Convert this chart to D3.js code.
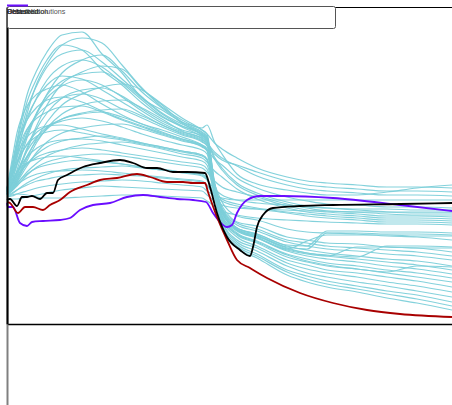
<!DOCTYPE html>
<html>
<head>
<meta charset="utf-8">
<script src="https://cdn.jsdelivr.net/npm/d3@7"></script>
<style>
  html, body { margin: 0; padding: 0; background: #fff; }
  svg { display: block; }
</style>
</head>
<body>
<svg id="chart" width="452" height="405"></svg>
<script>
// Time axis shared by every ensemble member
const solutionTimes = [0, 1, 2, 4, 6, 8, 11, 15, 19, 23, 27, 31, 35, 39, 40, 41.5, 43, 46, 50, 56, 60, 64, 70, 76, 82, 89];

// Ensemble of model solutions
const solutions = [
  [13.4, 15.9, 18.4, 22.9, 25.4, 27.2, 28.9, 29.2, 27.0, 25.1, 22.6, 21.4, 20.2, 19.4, 19.0, 14.1, 10.8, 9.3, 8.6, 7.3, 6.8, 6.5, 6.2, 5.8, 5.5, 5.0],
  [13.2, 14.6, 16.8, 21.0, 24.1, 26.0, 27.9, 28.6, 28.1, 25.9, 23.6, 21.7, 20.4, 19.6, 19.9, 18.2, 17.0, 15.0, 14.0, 13.4, 13.1, 12.9, 12.9, 13.2, 13.6, 13.9],
  [13.5, 15.6, 18.1, 22.2, 24.6, 26.4, 27.9, 27.4, 25.4, 23.9, 22.1, 20.7, 19.8, 19.0, 18.6, 14.2, 11.1, 9.5, 8.8, 7.7, 7.5, 9.1, 9.1, 9.0, 9.0, 8.9],
  [13.0, 14.0, 15.4, 18.6, 21.1, 23.0, 25.1, 26.4, 26.9, 25.3, 23.2, 21.6, 20.1, 18.9, 18.5, 13.6, 10.3, 8.4, 7.6, 6.1, 5.5, 5.1, 4.7, 4.2, 3.8, 3.2],
  [13.3, 15.1, 17.3, 20.4, 22.7, 24.4, 25.8, 26.4, 25.7, 24.1, 22.4, 20.8, 19.7, 18.7, 18.3, 16.7, 15.6, 14.1, 13.1, 12.2, 11.8, 11.6, 11.4, 11.2, 11.1, 11.1],
  [13.1, 13.8, 15.0, 17.6, 19.9, 21.9, 24.0, 25.2, 25.8, 25.5, 23.5, 21.9, 20.2, 19.2, 18.8, 13.9, 10.6, 9.0, 8.2, 6.9, 6.3, 5.9, 5.5, 5.2, 5.8, 5.7],
  [13.4, 15.7, 17.9, 20.7, 22.6, 23.9, 24.8, 24.5, 23.4, 22.2, 21.0, 19.9, 19.1, 18.4, 18.0, 13.7, 10.7, 8.9, 8.1, 6.7, 6.2, 5.8, 5.5, 5.1, 4.7, 4.2],
  [13.0, 14.3, 16.1, 19.1, 21.1, 22.6, 23.8, 24.4, 23.9, 22.7, 21.3, 20.1, 19.2, 18.6, 18.2, 16.5, 15.4, 13.9, 12.9, 12.0, 11.6, 11.3, 11.2, 11.0, 10.9, 10.9],
  [13.6, 16.4, 19.1, 21.8, 23.0, 23.5, 23.9, 23.2, 22.0, 20.9, 20.0, 19.4, 18.7, 17.9, 17.5, 13.8, 11.2, 9.4, 8.6, 7.4, 7.0, 6.8, 7.7, 7.7, 7.6, 7.6],
  [12.9, 13.6, 14.8, 17.4, 19.6, 21.1, 22.6, 23.4, 23.6, 22.8, 21.5, 20.3, 19.4, 18.8, 18.4, 13.3, 9.9, 8.0, 7.0, 5.4, 4.8, 4.3, 3.8, 3.3, 2.9, 2.2],
  [13.2, 14.9, 16.6, 19.4, 20.9, 21.8, 22.6, 23.0, 22.5, 21.5, 20.6, 19.7, 18.9, 18.2, 17.8, 14.1, 11.6, 10.1, 9.5, 8.4, 8.1, 7.8, 7.6, 7.4, 7.2, 6.8],
  [13.0, 13.5, 14.3, 16.3, 18.2, 19.6, 21.0, 21.9, 22.3, 22.4, 21.6, 20.5, 19.3, 18.5, 18.1, 17.2, 16.6, 15.8, 14.8, 13.9, 13.5, 13.3, 13.1, 12.9, 12.9, 12.8],
  [13.3, 15.4, 17.2, 19.5, 20.6, 21.2, 21.7, 21.8, 21.2, 20.4, 19.7, 19.0, 18.4, 17.7, 17.3, 13.8, 11.4, 9.6, 9.0, 7.9, 7.8, 9.3, 9.3, 9.2, 9.2, 9.1],
  [13.1, 14.0, 15.2, 17.3, 18.7, 19.7, 20.5, 21.0, 21.2, 20.7, 20.0, 19.2, 18.5, 17.9, 17.5, 12.9, 9.7, 7.8, 6.8, 5.2, 4.5, 4.0, 3.5, 3.0, 2.5, 1.8],
  [13.4, 14.8, 16.0, 18.0, 19.2, 19.8, 20.3, 20.6, 20.3, 19.7, 19.0, 18.4, 17.9, 17.4, 17.0, 13.4, 10.9, 9.1, 8.3, 7.0, 6.5, 6.1, 5.8, 5.4, 5.1, 4.6],
  [12.9, 13.5, 14.2, 15.8, 17.2, 18.2, 19.1, 19.6, 19.9, 20.0, 19.5, 18.9, 18.3, 17.8, 17.4, 16.5, 15.9, 14.6, 13.6, 12.7, 12.3, 12.0, 11.9, 11.7, 11.7, 11.6],
  [13.5, 15.0, 16.3, 17.9, 18.8, 19.2, 19.4, 19.1, 18.7, 18.4, 18.0, 17.6, 17.2, 16.8, 16.4, 14.0, 12.2, 10.8, 10.4, 9.5, 9.2, 9.1, 9.0, 8.8, 8.7, 8.4],
  [13.0, 13.7, 14.5, 16.0, 17.0, 17.7, 18.3, 18.6, 18.8, 18.5, 18.1, 17.7, 17.3, 16.9, 16.5, 12.8, 10.2, 8.2, 7.3, 5.8, 5.1, 4.7, 4.2, 3.8, 3.3, 2.7],
  [13.1, 13.4, 14.0, 15.2, 16.1, 16.8, 17.4, 17.9, 18.1, 18.2, 17.9, 17.5, 17.0, 16.6, 16.2, 15.3, 14.7, 13.5, 12.5, 11.6, 11.2, 11.0, 10.8, 10.6, 10.6, 10.5],
  [13.2, 14.0, 14.8, 16.0, 16.7, 17.1, 17.4, 17.6, 17.4, 17.1, 16.8, 16.5, 16.2, 15.9, 15.5, 13.3, 11.8, 10.2, 9.8, 8.7, 8.4, 8.1, 8.0, 7.7, 7.6, 7.2],
  [12.9, 13.3, 13.8, 14.9, 15.7, 16.2, 16.6, 16.9, 17.0, 16.8, 16.5, 16.2, 15.9, 15.6, 15.2, 14.3, 13.7, 13.2, 12.7, 11.8, 11.4, 11.2, 11.0, 10.8, 10.8, 10.7],
  [13.0, 13.5, 14.1, 15.0, 15.6, 15.9, 16.2, 16.4, 16.2, 16.0, 15.7, 15.5, 15.2, 15.0, 14.6, 12.8, 11.4, 9.6, 9.0, 7.8, 7.4, 7.1, 6.8, 6.5, 6.3, 5.8],
  [12.8, 13.0, 13.4, 14.1, 14.6, 15.0, 15.4, 15.6, 15.7, 15.8, 15.6, 15.4, 15.1, 14.8, 14.4, 13.5, 12.9, 12.4, 12.1, 11.9, 11.7, 11.6, 11.5, 11.5, 11.4, 11.4],
  [12.9, 13.1, 13.4, 13.9, 14.3, 14.5, 14.8, 14.9, 15.0, 14.9, 14.8, 14.6, 14.4, 14.2, 13.8, 12.9, 12.3, 11.8, 11.5, 11.1, 10.8, 10.6, 10.4, 10.2, 10.2, 10.1],
  [12.7, 12.8, 13.0, 13.3, 13.6, 13.8, 14.0, 14.2, 14.3, 14.4, 14.3, 14.1, 13.9, 13.7, 13.3, 12.9, 12.6, 12.4, 12.4, 12.4, 12.4, 12.4, 12.4, 12.4, 12.4, 12.4],
  [12.6, 12.5, 12.5, 12.7, 12.9, 13.1, 13.4, 13.6, 13.8, 13.7, 13.6, 13.5, 13.4, 13.3, 12.9, 12.3, 11.9, 11.6, 11.5, 11.4, 11.3, 11.3, 11.2, 11.2, 11.2, 11.2],
  [13.3, 15.2, 17.6, 21.5, 23.9, 25.7, 27.0, 27.4, 26.2, 24.5, 22.7, 21.1, 20.0, 19.1, 18.7, 13.2, 9.6, 7.6, 6.6, 4.9, 4.2, 3.7, 3.2, 2.6, 2.1, 1.4],
  [13.2, 14.3, 15.9, 18.9, 21.2, 22.9, 24.3, 25.0, 25.2, 24.2, 22.6, 21.0, 19.8, 18.9, 18.5, 13.7, 10.5, 8.7, 7.8, 6.4, 5.9, 5.4, 5.1, 4.7, 4.3, 3.7],
  [13.5, 15.8, 18.0, 20.4, 21.7, 22.4, 22.7, 22.2, 21.3, 20.5, 19.8, 19.1, 18.5, 17.8, 17.4, 13.9, 11.3, 9.6, 8.9, 7.6, 7.1, 6.9, 6.7, 7.8, 7.8, 7.7],
  [13.0, 13.6, 14.6, 16.8, 18.4, 19.5, 20.5, 21.1, 21.4, 21.5, 20.8, 19.9, 19.0, 18.3, 17.9, 17.0, 16.4, 15.9, 15.2, 14.3, 13.9, 13.7, 13.5, 13.3, 13.3, 13.2],
  [13.6, 15.5, 17.0, 18.7, 19.5, 19.8, 19.9, 19.5, 19.0, 18.6, 18.1, 17.7, 17.3, 16.9, 16.5, 13.4, 11.2, 9.4, 8.7, 7.5, 8.3, 8.9, 8.9, 8.9, 8.8, 8.8],
  [13.1, 14.2, 15.2, 16.7, 17.6, 18.1, 18.4, 18.5, 18.3, 17.9, 17.5, 17.1, 16.7, 16.3, 15.9, 13.3, 11.5, 9.9, 9.3, 8.2, 7.8, 7.5, 7.3, 7.0, 6.8, 6.4],
  [13.3, 14.3, 15.2, 16.1, 16.5, 16.7, 16.8, 16.6, 16.3, 16.0, 15.7, 15.4, 15.2, 14.9, 14.5, 12.6, 11.2, 9.4, 8.8, 7.5, 7.1, 6.8, 6.5, 6.2, 5.9, 5.4],
  [13.0, 13.4, 13.9, 14.6, 15.0, 15.2, 15.3, 15.4, 15.3, 15.1, 14.9, 14.7, 14.5, 14.3, 13.9, 13.1, 12.5, 12.0, 11.6, 11.2, 11.0, 10.8, 10.6, 10.4, 10.4, 10.3],
  [12.9, 13.4, 14.4, 16.6, 18.6, 20.2, 21.9, 23.0, 23.7, 24.0, 23.4, 22.0, 20.6, 19.4, 19.0, 18.1, 17.5, 16.6, 15.6, 14.7, 14.3, 14.1, 13.9, 13.7, 13.7, 13.6],
  [12.7, 12.9, 13.0, 12.9, 12.7, 12.6, 12.6, 12.7, 12.8, 12.9, 12.9, 12.8, 12.7, 12.6, 12.3, 11.8, 11.3, 10.9, 10.6, 10.4, 10.3, 10.2, 10.1, 10.0, 10.0, 9.9]
];

// Observed record
const observedTimes  = [0, 0.6, 2, 3, 4, 5, 6.6, 8, 9.2, 10.2, 12, 15.2, 18.6, 22.6, 25.2, 28, 30, 33.2, 36, 39.6, 40.6, 42, 44, 46.6, 48.6, 49.2, 50, 51.2, 53.2, 58.6, 65.2, 78.6, 89];
const observedValues = [12.4, 12.5, 11.8, 12.7, 12.7, 12.8, 12.5, 13.1, 13.1, 14.4, 14.9, 15.7, 16.1, 16.4, 16.1, 15.6, 15.6, 15.2, 15.2, 15.1, 13.7, 11.1, 8.7, 7.4, 6.8, 7.7, 9.7, 10.9, 11.6, 11.8, 11.9, 12.0, 12.1];

// Best solution
const bestTimes  = [0, 0.6, 2.2, 3.6, 5.2, 7.2, 8.6, 10.6, 12.6, 16, 18.6, 22, 26, 28.6, 32, 35.2, 37.2, 39.6, 40.2, 42, 44, 46, 48.6, 52, 58.6, 65.2, 72, 78.6, 89];
const bestValues = [12.2, 12.1, 11.1, 11.7, 11.7, 11.4, 11.9, 12.4, 13.2, 13.9, 14.4, 14.6, 15.0, 14.7, 14.2, 14.2, 14.1, 14.1, 13.2, 10.7, 8.4, 6.4, 5.6, 4.6, 3.1, 2.1, 1.4, 1.0, 0.7];

// Default parameter run
const defaultTimes  = [0, 0.2, 1.2, 2.6, 4, 5, 7.2, 10.6, 12.6, 14.6, 17.2, 20.6, 24, 27.2, 30.6, 34, 37.2, 39.8, 41.2, 42.6, 44, 45, 46, 48, 50.6, 55.2, 65.2, 78.6, 89];
const defaultValues = [12.1, 11.7, 11.7, 10.1, 9.8, 10.2, 10.3, 10.4, 10.6, 11.4, 11.9, 12.1, 12.7, 12.9, 12.7, 12.5, 12.4, 12.2, 11.1, 10.2, 9.7, 9.9, 11.1, 12.4, 12.8, 12.8, 12.6, 11.9, 11.3];

const legendLabels = ["Observed", "Default", "Best solution", "Selected solutions"];
const legendColors = ["#000000", "#111111", "#1a1a1a", "#555555"];

const svg = d3.select("#chart");

const x = d3.scaleLinear().domain([0, 89]).range([7, 452]);
const y = d3.scaleLinear().domain([0, 31.7]).range([324, 7]);

const line = d3.line()
  .x(d => x(d[0]))
  .y(d => y(d[1]))
  .curve(d3.curveMonotoneX);

const zipSeries = (ts, vs) => ts.map((t, i) => [t, vs[i]]);

// Ensemble lines
svg.append("g")
  .selectAll("path")
  .data(solutions)
  .join("path")
  .attr("d", vs => line(zipSeries(solutionTimes, vs)))
  .attr("fill", "none")
  .attr("stroke", "#7ccfd9")
  .attr("stroke-width", 1.2)
  .attr("stroke-opacity", 0.95);

const highlight = [
  { ts: defaultTimes,  vs: defaultValues,  color: "#6a0dff" },
  { ts: bestTimes,     vs: bestValues,     color: "#a80000" },
  { ts: observedTimes, vs: observedValues, color: "#000000" }
];

svg.append("g")
  .selectAll("path")
  .data(highlight)
  .join("path")
  .attr("d", s => line(zipSeries(s.ts, s.vs)))
  .attr("fill", "none")
  .attr("stroke", s => s.color)
  .attr("stroke-width", 1.8);

// Frame: top edge
svg.append("g")
  .attr("transform", `translate(0,${y.range()[1]})`)
  .call(d3.axisTop(x).tickValues([]).tickSizeOuter(0))
  .select(".domain").attr("stroke", "#000").attr("stroke-width", 1.2);

// Frame: bottom axis
svg.append("g")
  .attr("transform", `translate(0,${y.range()[0]})`)
  .call(d3.axisBottom(x).tickValues([]).tickSizeOuter(0))
  .select(".domain").attr("stroke", "#000").attr("stroke-width", 1.6);

// Frame: left axis
svg.append("g")
  .attr("transform", `translate(${x.range()[0]},0)`)
  .call(d3.axisLeft(y).tickValues([]).tickSizeOuter(0))
  .select(".domain").attr("stroke", "#000").attr("stroke-width", 2.2);

// Lower strip below the plot
const strip = d3.scaleLinear().domain([0, 1]).range([324, 405]);
svg.append("g")
  .attr("transform", `translate(${x.range()[0]},0)`)
  .call(d3.axisLeft(strip).tickValues([]).tickSizeOuter(0))
  .select(".domain").attr("stroke", "#808080").attr("stroke-width", 2);

// Legend
const legend = svg.append("g");
legend.append("rect")
  .attr("x", 7.5).attr("y", 6.5)
  .attr("width", 328).attr("height", 22)
  .attr("rx", 2)
  .attr("fill", "#fff")
  .attr("stroke", "#555")
  .attr("stroke-width", 1);

legend.append("line")
  .attr("x1", 7).attr("x2", 28)
  .attr("y1", 5.5).attr("y2", 5.5)
  .attr("stroke", "#6a0dff")
  .attr("stroke-width", 2);

legend.selectAll("text")
  .data(legendLabels)
  .join("text")
  .attr("x", 7)
  .attr("y", 13.5)
  .attr("font-family", "Liberation Sans, Arial, sans-serif")
  .attr("font-size", 7.2)
  .attr("fill", (d, i) => legendColors[i])
  .text(d => d);
</script>
</body>
</html>
